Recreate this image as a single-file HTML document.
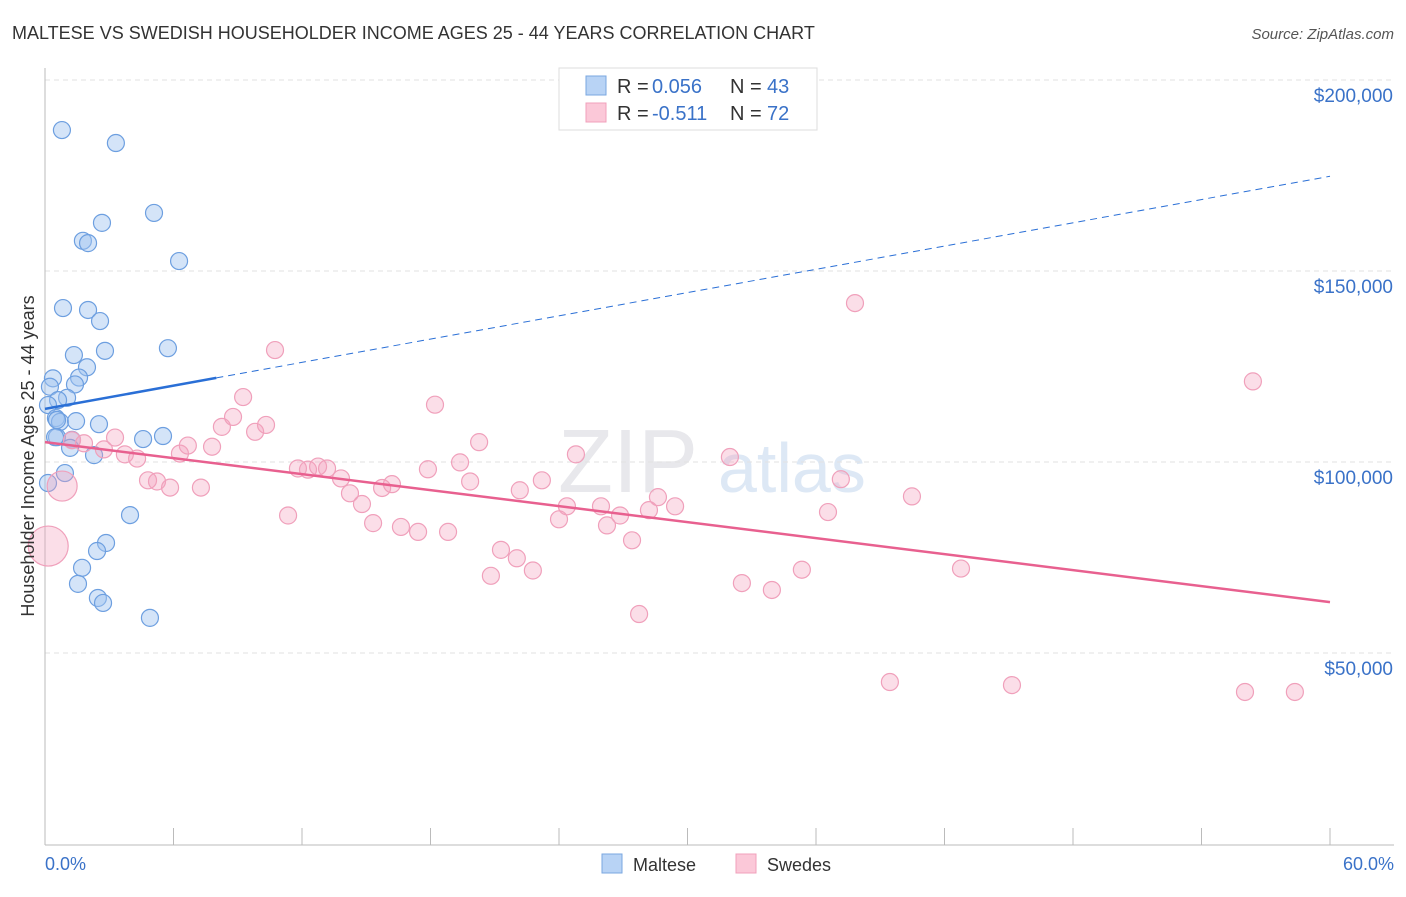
<!DOCTYPE html>
<html><head><meta charset="utf-8"><style>
body{margin:0;background:#fff;font-family:"Liberation Sans",sans-serif}
svg text{font-family:"Liberation Sans",sans-serif}
</style></head><body>
<svg id="c" width="1406" height="892">
<text x="12" y="39" font-size="18" fill="#333">MALTESE VS SWEDISH HOUSEHOLDER INCOME AGES 25 - 44 YEARS CORRELATION CHART</text>
<text x="1394" y="39" font-size="15" fill="#555" text-anchor="end" font-style="italic">Source: ZipAtlas.com</text>
<text x="558" y="492" font-size="90" fill="#e8e8ec" font-family="Liberation Serif">ZIP</text>
<text x="718" y="492" font-size="70" fill="#dde8f5">atlas</text>
<g id="grid"></g><g id="axes"></g><g id="pts"></g><g id="trend"></g>
<text x="34" y="456" font-size="18" fill="#333" text-anchor="middle" transform="rotate(-90 34 456)">Householder Income Ages 25 - 44 years</text>
<text x="45" y="870" font-size="18" fill="#3a72c8">0.0%</text>
<text x="1394" y="870" font-size="18" fill="#3a72c8" text-anchor="end">60.0%</text>
<g>
<rect x="559" y="68" width="258" height="62" fill="#fff" stroke="#ddd"/>
<rect x="586" y="76" width="20" height="19" fill="#b8d3f5" stroke="#7aa7e0"/>
<rect x="586" y="103" width="20" height="19" fill="#fbc8d8" stroke="#f0a0bb"/>
<text x="617" y="93" font-size="20" fill="#333">R =</text>
<text x="652" y="93" font-size="20" fill="#3a72c8">0.056</text>
<text x="730" y="93" font-size="20" fill="#333">N =</text>
<text x="767" y="93" font-size="20" fill="#3a72c8">43</text>
<text x="617" y="120" font-size="20" fill="#333">R =</text>
<text x="652" y="120" font-size="20" fill="#3a72c8">-0.511</text>
<text x="730" y="120" font-size="20" fill="#333">N =</text>
<text x="767" y="120" font-size="20" fill="#3a72c8">72</text>
</g>
<g>
<rect x="602" y="854" width="20" height="19" fill="#b8d3f5" stroke="#7aa7e0"/>
<text x="633" y="871" font-size="18" fill="#333">Maltese</text>
<rect x="736" y="854" width="20" height="19" fill="#fbc8d8" stroke="#f0a0bb"/>
<text x="767" y="871" font-size="18" fill="#333">Swedes</text>
</g>
</svg>
<script>
const yTicks=[50000,100000,150000,200000];
const yTickLabels=["$50,000","$100,000","$150,000","$200,000"];
const malteseX=[0.79,3.31,5.09,2.66,1.77,2.01,6.26,0.84,2.01,2.57,1.35,2.80,5.74,1.96,1.59,0.37,1.40,0.23,1.03,0.61,0.14,0.51,0.70,1.45,2.52,0.56,1.26,4.58,5.51,1.17,2.29,0.93,0.14,3.97,2.85,2.43,1.73,1.54,2.47,2.71,4.90,0.47,0.56];
const malteseY=[186900,183500,165200,162600,157900,157300,152600,140300,139800,136900,128000,129100,129800,124800,122100,121900,120300,119700,116800,116200,114900,111500,110500,110700,109900,106500,105800,106000,106800,103700,101800,97100,94500,86100,78800,76700,72300,68100,64400,63100,59200,106500,111000];
const swedesX=[0.15,0.8,1.26,1.82,2.75,3.27,3.73,4.3,4.81,5.23,5.84,6.3,6.67,7.28,7.8,8.26,8.78,9.25,9.81,10.32,10.74,11.35,11.81,12.28,12.75,13.17,13.82,14.24,14.8,15.32,15.74,16.2,16.62,17.42,18.21,17.88,18.82,19.38,19.85,20.27,21.29,20.82,22.03,22.17,22.78,23.2,24.0,24.37,24.79,25.96,26.24,26.85,27.41,27.74,28.2,28.62,29.42,31.98,32.54,33.94,35.34,36.56,37.16,37.82,39.45,40.48,42.77,45.15,56.03,56.4,58.36];
const swedesY=[78000,93700,105700,104900,103300,106400,102000,100900,95200,94900,93300,102200,104300,93300,104000,109200,111800,117000,107900,109700,129300,86000,98300,98000,98800,98300,95700,91800,89000,84000,93200,94200,83000,81700,115000,98100,81700,99900,94900,105200,77000,70200,74800,92600,71600,95200,85000,88400,102000,88400,83400,86000,79500,60200,87400,90800,88400,101300,68300,66500,71800,86900,95500,141600,42400,91000,72100,41600,39800,121100,39800];
const swedesR=[20,15];
const ns="http://www.w3.org/2000/svg";
const X0=45,X1=1330,Y0=844,YPER=191/50000;
function xs(v){return X0+v/60*(X1-X0);}
function ys(v){return Y0-v*YPER;}
function mk(t,a,p){const e=document.createElementNS(ns,t);for(const k in a)e.setAttribute(k,a[k]);p.appendChild(e);return e;}
const grid=document.getElementById('grid'),axes=document.getElementById('axes'),pts=document.getElementById('pts'),trend=document.getElementById('trend'),svg=document.getElementById('c');
yTicks.forEach((v,i)=>{
 const l=mk('line',{x1:X0,x2:1394,y1:ys(v),y2:ys(v),stroke:'#e2e2e2','stroke-dasharray':'5,4'},grid);
 
 
 const t=mk('text',{x:1393,y:ys(v)+22,'font-size':19,fill:'#3a72c8','text-anchor':'end'},svg);
 t.textContent=yTickLabels[i];
 
 
});
const ax=mk('line',{x1:X0,x2:X0,y1:68,y2:845,stroke:'#bbb'},axes);


const bx=mk('line',{x1:X0,x2:1394,y1:845,y2:845,stroke:'#bbb'},axes);


for(let i=0;i<=10;i++){const t=mk('line',{x1:xs(i*6),x2:xs(i*6),y1:828,y2:845,stroke:'#bbb'},axes);
 
 }
malteseX.forEach((x,i)=>{const c=mk('circle',{cx:xs(x),cy:ys(malteseY[i]),r:8.5,fill:'rgba(160,196,240,0.45)',stroke:'#6d9fe0','stroke-width':1.2},pts);
 
 });
swedesX.forEach((x,i)=>{const c=mk('circle',{cx:xs(x),cy:ys(swedesY[i]),r:swedesR[i]||8.5,fill:'rgba(244,160,188,0.35)',stroke:'#f0a0bb','stroke-width':1.2},pts);
 
 });
const bf=[113900,1015];
const sf=[105200,-698];
let l1=mk('line',{x1:xs(0),y1:ys(bf[0]),x2:xs(8),y2:ys(bf[0]+bf[1]*8),stroke:'#2a6fd6','stroke-width':2.5},trend);


let l2=mk('line',{x1:xs(8),y1:ys(bf[0]+bf[1]*8),x2:xs(60),y2:ys(bf[0]+bf[1]*60),stroke:'#2a6fd6','stroke-width':1,'stroke-dasharray':'7,5'},trend);


let l3=mk('line',{x1:xs(0),y1:ys(sf[0]),x2:xs(60),y2:ys(sf[0]+sf[1]*60),stroke:'#e8608f','stroke-width':2.5},trend);


</script>
</body></html>
